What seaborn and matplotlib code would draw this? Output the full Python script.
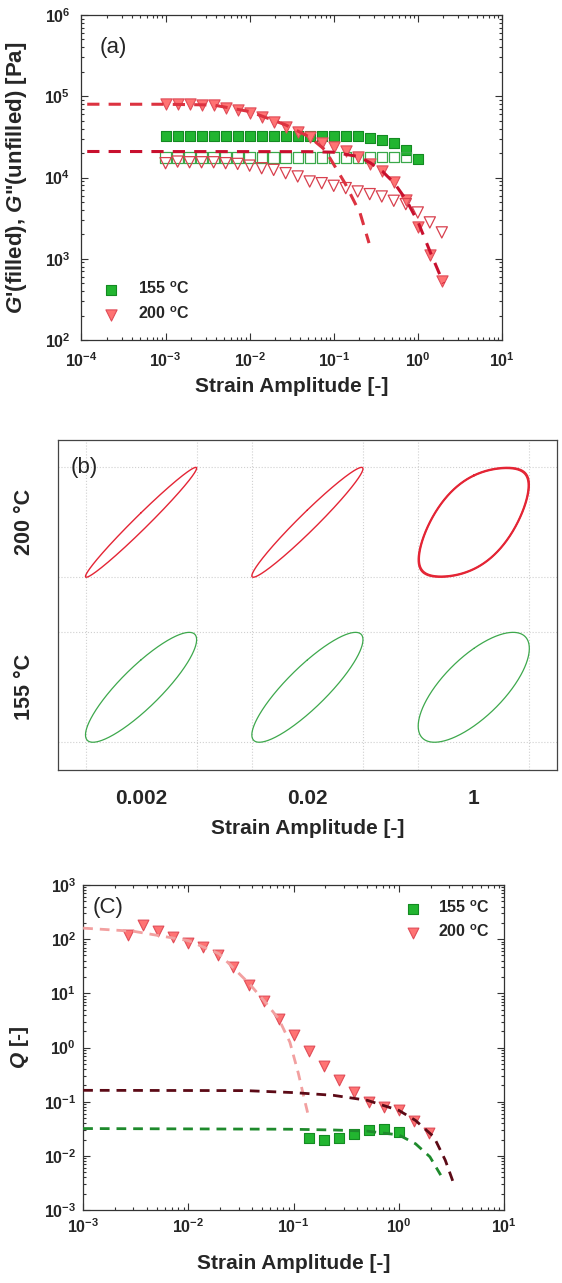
import numpy as np
import matplotlib
matplotlib.use("Agg")
import matplotlib.pyplot as plt
import seaborn as sns
from matplotlib.ticker import LogLocator, NullFormatter, FixedLocator

# ---------------- data ----------------
strain = [0.001, 0.00139, 0.00193, 0.00268, 0.00373, 0.00518, 0.0072,
          0.01, 0.0139, 0.0193, 0.0268, 0.0373, 0.0518, 0.072,
          0.1, 0.139, 0.193, 0.268, 0.373, 0.518, 0.72, 1.0, 1.39, 1.93]

# panel (a): G' (filled) and G'' (unfilled)
G1_155 = [32500, 32500, 32500, 32500, 32500, 32500, 32500, 32500, 32500, 32500, 32500,
          32500, 32500, 32400, 32300, 32200, 32000, 31000, 29000, 26400, 21900, 16800]
G2_155 = [17600, 17600, 17600, 17600, 17600, 17600, 17600, 17600, 17600, 17600, 17600,
          17600, 17600, 17600, 17600, 17600, 17700, 17700, 17800, 17900, 18000]
G1_200 = [79800, 79800, 79800, 79000, 77500, 71100, 67900, 61800, 55200, 48800, 42400,
          36800, 31100, 26900, 24000, 20900, 18100, 14700, 11900, 8690, 5220, 2430, 1120, 537]
G2_200 = [15000, 15700, 15400, 15400, 15400, 15000, 14700, 14000, 13000, 12400, 11300,
          10300, 8930, 8510, 7900, 7400, 6730, 6240, 5840, 5170, 4700, 3710, 2800, 2110]

fitA_hi_x = [1.17e-4, 1.0e-3, 3.69e-3, 1.01e-2, 2.68e-2, 5.18e-2, 7.88e-2, 0.136, 0.206, 0.263]
fitA_hi_y = [79800, 79700, 78100, 64700, 44400, 31400, 21900, 8510, 3640, 1560]
fitA_lo_x = [1.17e-4, 0.05, 0.099, 0.197, 0.274, 0.38, 0.527, 0.733, 1.02, 1.42, 2.02]
fitA_lo_y = [20900, 20800, 20500, 18100, 15100, 11900, 8500, 5250, 2740, 1180, 500]

# panel (b): Lissajous loops (phase lag in degrees, 3rd-harmonic share)
loop_amplitudes = ["0.002", "0.02", "1"]
phase_155 = [30, 30, 45]
phase_200 = [10, 13, 53]
harm3_155 = [0.0, 0.0, 0.0]
harm3_200 = [0.0, 0.0, 0.05]
cycles_200 = [[1.0], [1.0], [1.0, 0.99, 0.98]]

# panel (c): Q parameter
q_strain_200 = strain[3:]
Q_200 = [121, 186, 140, 112, 86, 73, 51, 30, 14.4, 7.1, 3.3, 1.67, 0.85, 0.455,
         0.255, 0.149, 0.099, 0.08, 0.0695, 0.0436, 0.0266]
q_strain_155 = strain[15:22]
Q_155 = [0.0218, 0.0195, 0.0209, 0.0258, 0.0305, 0.0314, 0.0277]

fitQ_pink_x = [0.001, 0.003, 0.01, 0.0195, 0.038, 0.052, 0.072, 0.092, 0.111, 0.125, 0.14]
fitQ_pink_y = [160, 140, 94, 54, 15, 7.4, 3.4, 1.26, 0.33, 0.122, 0.049]
fitQ_dark_x = [0.001, 0.035, 0.1, 0.238, 0.5, 1.0, 1.44, 2.15, 2.76, 3.4]
fitQ_dark_y = [0.162, 0.16, 0.147, 0.131, 0.106, 0.069, 0.045, 0.0224, 0.0083, 0.0027]
fitQ_green_x = [0.001, 0.092, 0.24, 0.5, 1.0, 1.44, 1.97, 2.5]
fitQ_green_y = [0.0319, 0.031, 0.030, 0.0286, 0.0243, 0.0167, 0.0096, 0.0044]

labels = ["155 $^{\\rm o}$C", "200 $^{\\rm o}$C"]

# ---------------- style ----------------
sns.set_theme(style="ticks")
plt.rcParams.update({
    "font.family": ["Liberation Sans", "DejaVu Sans"],
    "font.weight": "bold",
    "axes.labelweight": "bold",
    "mathtext.fontset": "custom",
    "mathtext.rm": "Liberation Sans:bold",
    "mathtext.it": "Liberation Sans:italic:bold",
    "mathtext.bf": "Liberation Sans:bold",
    "axes.edgecolor": "#333333",
    "axes.linewidth": 0.9,
})

GREEN_F, GREEN_E = "#22b530", "#148a22"
RED_F, RED_E = "#ff7373", "#e04c58"
OPEN_G, OPEN_R = "#3aa84a", "#d8404e"

fig = plt.figure(figsize=(5.62, 12.83), dpi=100)
axA = fig.add_axes([0.145, 0.735, 0.748, 0.2533])
axB = fig.add_axes([0.103, 0.400, 0.888, 0.2572])
axC = fig.add_axes([0.148, 0.0569, 0.749, 0.2533])


def style_log(ax, pad):
    ax.set_xscale("log")
    ax.set_yscale("log")
    for axis in (ax.xaxis, ax.yaxis):
        axis.set_major_locator(LogLocator(base=10, numticks=20))
        axis.set_minor_locator(LogLocator(base=10, subs=np.arange(2, 10), numticks=200))
        axis.set_minor_formatter(NullFormatter())
    ax.tick_params(which="both", direction="in", top=True, right=True,
                   labelsize=11.5, width=0.8, color="#333333", pad=pad)
    ax.tick_params(which="major", length=5)
    ax.tick_params(which="minor", length=2.5)


def line(ax, x, y, color, lw, dash):
    sns.lineplot(x=x, y=y, ax=ax, color=color, linewidth=lw, linestyle=(0, dash),
                 estimator=None, sort=False, legend=False, zorder=4)


def pts(ax, x, y, marker, s, fc, ec, lw=0.8):
    sns.scatterplot(x=x, y=y, ax=ax, marker=marker, s=s, color=ec, facecolor=fc,
                    edgecolor=ec, linewidth=lw, legend=False, zorder=3)
    return ax.collections[-1]


# ---------------- panel (a) ----------------
style_log(axA, pad=8)
h155 = pts(axA, strain[:22], G1_155, "s", 55, GREEN_F, GREEN_E)
pts(axA, strain[:21], G2_155, "s", 55, "none", OPEN_G, 0.9)
h200 = pts(axA, strain, G1_200, "v", 65, RED_F, RED_E)
pts(axA, strain, G2_200, "v", 65, "none", OPEN_R, 0.9)
line(axA, fitA_hi_x, fitA_hi_y, "#dc3240", 2.2, (4, 3))
line(axA, fitA_lo_x, fitA_lo_y, "#c8102e", 2.2, (4, 3))
axA.set_xlim(1e-4, 1e1)
axA.set_ylim(1e2, 1e6)
axA.set_xlabel("Strain Amplitude [-]", fontsize=15, fontweight="bold")
axA.set_ylabel("$G$'(filled), $G$\"(unfilled) [Pa]", fontsize=16, fontweight="bold")
axA.yaxis.set_label_coords(-0.125, 0.5)
axA.xaxis.set_label_coords(0.5, -0.115)
axA.text(0.076, 0.90, "(a)", transform=axA.transAxes, fontsize=16,
         fontweight="normal", ha="center", va="center")
axA.legend([h155, h200], labels, loc="lower left", bbox_to_anchor=(0.02, 0.02),
           frameon=False, fontsize=11.5, handletextpad=1.1, labelspacing=0.55,
           handlelength=1.2, borderaxespad=0.3)

# ---------------- panel (b) ----------------
axB.set_xlim(0, 3)
axB.set_ylim(0, 2)
t = np.linspace(0, 2 * np.pi, 600)
hw, hh = 0.334, 0.333
for j in range(3):
    # 155 C row (bottom)
    d = np.deg2rad(phase_155[j])
    yy = np.sin(t + d) + harm3_155[j] * np.sin(3 * (t + d))
    yy = yy / np.abs(yy).max()
    sns.lineplot(x=j + 0.5 + hw * np.sin(t), y=0.5 + hh * yy, ax=axB, color="#3da84c",
                 linewidth=0.9, estimator=None, sort=False, legend=False)
    # 200 C row (top)
    d = np.deg2rad(phase_200[j])
    yy = np.sin(t + d) + harm3_200[j] * np.sin(3 * (t + d))
    yy = yy / np.abs(yy).max()
    for c in cycles_200[j]:
        sns.lineplot(x=j + 0.5 + hw * c * np.sin(t), y=1.5 + hh * c * yy, ax=axB,
                     color="#e42535", linewidth=1.0, estimator=None, sort=False,
                     legend=False)
axB.set_xticks([0.5, 1.5, 2.5])
axB.set_xticklabels(loop_amplitudes)
axB.set_yticks([])
edges = [0.5 - hw, 0.5 + hw, 1.5 - hw, 1.5 + hw, 2.5 - hw, 2.5 + hw]
axB.xaxis.set_minor_locator(FixedLocator(edges))
axB.yaxis.set_minor_locator(FixedLocator([0.5 - hh, 0.5 + hh, 1.5 - hh, 1.5 + hh]))
axB.grid(which="minor", linestyle=":", color="#d0d0d0", linewidth=0.8)
axB.tick_params(which="both", length=0, labelsize=15, pad=14)
for sp in axB.spines.values():
    sp.set_visible(True)
    sp.set_color("#444444")
axB.set_xlabel("Strain Amplitude [-]", fontsize=15, fontweight="bold", labelpad=8)
axB.text(-0.066, 0.75, "200 °C", transform=axB.transAxes, rotation=90,
         fontsize=15.5, fontweight="bold", ha="center", va="center")
axB.text(-0.066, 0.25, "155 °C", transform=axB.transAxes, rotation=90,
         fontsize=15.5, fontweight="bold", ha="center", va="center")
axB.text(0.052, 0.915, "(b)", transform=axB.transAxes, fontsize=16,
         fontweight="normal", ha="center", va="center")

# ---------------- panel (c) ----------------
style_log(axC, pad=5)
line(axC, fitQ_pink_x, fitQ_pink_y, "#f2a0a0", 2.0, (3.5, 2.5))
line(axC, fitQ_dark_x, fitQ_dark_y, "#5c0a16", 2.0, (3.5, 2.5))
line(axC, fitQ_green_x, fitQ_green_y, "#1e8a2c", 2.0, (3.5, 2.5))
hq155 = pts(axC, q_strain_155, Q_155, "s", 50, GREEN_F, GREEN_E)
hq200 = pts(axC, q_strain_200, Q_200, "v", 60, RED_F, RED_E)
axC.set_xlim(1e-3, 1e1)
axC.set_ylim(1e-3, 1e3)
axC.set_xlabel("Strain Amplitude [-]", fontsize=15, fontweight="bold")
axC.set_ylabel("$Q$ [-]", fontsize=15, fontweight="bold")
axC.yaxis.set_label_coords(-0.125, 0.5)
axC.xaxis.set_label_coords(0.5, -0.135)
axC.text(0.059, 0.93, "(C)", transform=axC.transAxes, fontsize=16,
         fontweight="normal", ha="center", va="center")
axC.legend([hq155, hq200], labels, loc="upper right", bbox_to_anchor=(1.0, 1.0),
           frameon=False, fontsize=11.5, handletextpad=1.0, labelspacing=0.45,
           handlelength=1.2, borderaxespad=0.5)

fig.savefig("out.png", dpi=100)
